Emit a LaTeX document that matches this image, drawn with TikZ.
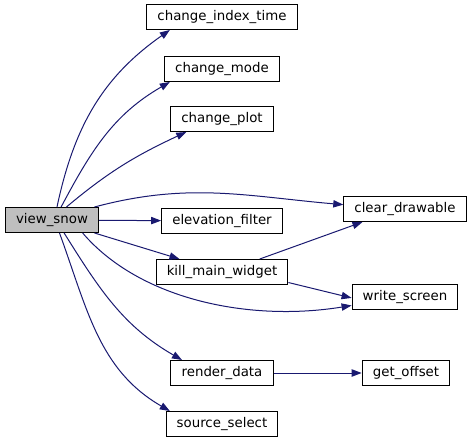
\documentclass[tikz,border=0pt]{standalone}
\usepackage{fontspec}
\setmainfont{DejaVu Sans}
\usetikzlibrary{arrows.meta}
\definecolor{edgeblue}{HTML}{191970}

\begin{document}
\begin{tikzpicture}[x=0.75pt,y=-0.75pt,
 fn/.style={draw=black,line width=0.75pt,fill=white,font=\fontsize{10}{12}\selectfont,
  inner xsep=8pt,inner ysep=0pt,minimum height=18.75pt},
 caller/.style={fn,fill=black!25},
 call/.style={edgeblue,line width=0.75pt,-{Triangle[length=7.5pt,width=5.5pt]}}]
 \useasboundingbox (0,0) rectangle (472,443);
 \node[caller] (vsnow) at (52,220) {view\_snow};
 \node[fn] (cit) at (222,17) {change\_index\_time};
 \node[fn] (cmode) at (222,69) {change\_mode};
 \node[fn] (cplot) at (222,119) {change\_plot};
 \node[fn] (efilt) at (222,221) {elevation\_filter};
 \node[fn] (kmw) at (222,272) {kill\_main\_widget};
 \node[fn] (rdata) at (222,373) {render\_data};
 \node[fn] (ssel) at (222,424) {source\_select};
 \node[fn] (cdraw) at (405,209) {clear\_drawable};
 \node[fn] (wscreen) at (405,297) {write\_screen};
 \node[fn] (goff) at (406,373) {get\_offset};
 \draw[call] (vsnow.69) to[out=78,in=215] (cit.194);
 \draw[call] (vsnow.55) to[out=62,in=210] (cmode.194);
 \draw[call] (vsnow.42) to[out=40,in=205] (cplot.200);
 \draw[call] (vsnow.17) to[out=15,in=175] (cdraw.176);
 \draw[call] (vsnow) -- (efilt);
 \draw[call] (vsnow.-17) -- (kmw.163);
 \draw[call] (vsnow.-23) .. controls (140,300) and (250,322) .. (wscreen.189);
 \draw[call] (vsnow.-47) to[out=-58,in=150] (rdata.162);
 \draw[call] (vsnow.-60) to[out=-70,in=150] (ssel.166);
 \draw[call] (kmw.19) -- (cdraw.197);
 \draw[call] (kmw.-9) -- (wscreen.181);
 \draw[call] (rdata) -- (goff);
\end{tikzpicture}
\end{document}
